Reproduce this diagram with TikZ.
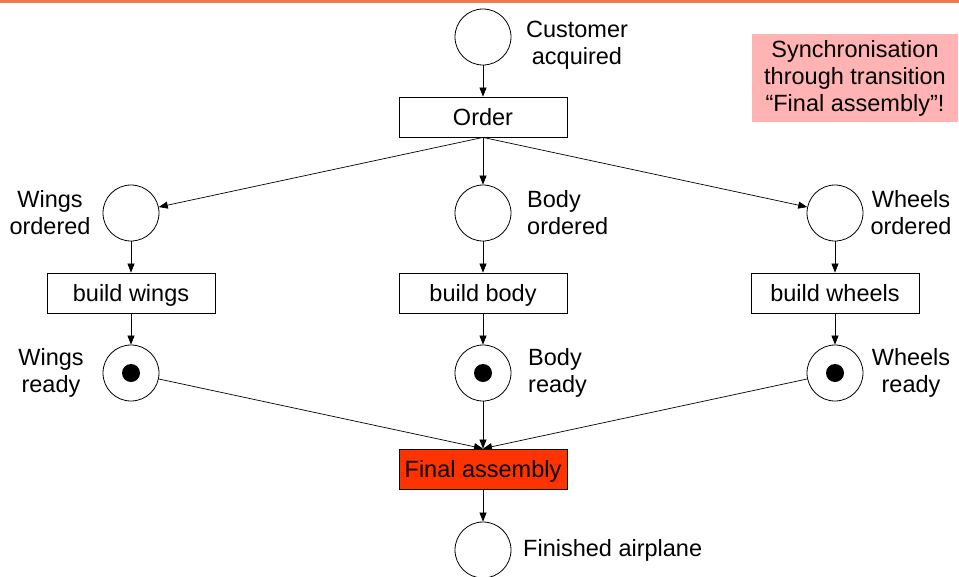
\documentclass[tikz,border=0pt]{standalone}
\usepackage{fontspec}
\setmainfont{Liberation Sans}
\usetikzlibrary{arrows.meta}
\definecolor{topline}{HTML}{F4764E}
\definecolor{firebox}{HTML}{FF3300}
\definecolor{notebox}{HTML}{FFB3B3}

\begin{document}
\begin{tikzpicture}[x=1pt,y=-1pt,
  every node/.style={font=\fontsize{23.5}{27}\selectfont},
  place/.style={draw,circle,minimum size=56pt,inner sep=0pt,line width=0.8pt},
  transition/.style={draw,rectangle,minimum width=168pt,minimum height=40pt,inner sep=0pt,
    text height=17pt,text depth=0pt,line width=0.8pt},
  token/.style={fill,circle,minimum size=18pt,inner sep=0pt},
  arc/.style={-{Triangle[length=9pt,width=7pt]},line width=0.7pt},
  lbl/.style={align=center,inner sep=0pt},
  lbll/.style={align=left,inner sep=0pt,anchor=west},
]
\useasboundingbox (0,0) rectangle (959,576);
\draw[topline,line width=2.5pt] (0,1.5) -- (959,1.5);

% places and transitions
\node[place] (ca) at (483,37) {};
\node[transition] (order) at (483,117) {Order};

\node[place] (wo) at (131,213) {};
\node[place] (bo) at (483,213) {};
\node[place] (who) at (835,213) {};

\node[transition] (bw) at (131,293) {build wings};
\node[transition] (bb) at (483,293) {build body};
\node[transition] (bwh) at (835,293) {build wheels};

\node[place] (wr) at (131,373) {};
\node[place] (br) at (483,373) {};
\node[place] (whr) at (835,373) {};
\node[token] (wrt) at (wr) {};
\node[token] (brt) at (br) {};
\node[token] (whrt) at (whr) {};

\node[transition,fill=firebox] (fa) at (483,469) {Final assembly};
\node[place] (fp) at (483,550) {};

% labels
\node[lbl] (caL) at (577,45) {Customer\\acquired};
\node[lbl] (woL) at (50,213) {Wings\\ordered};
\node[lbll] (boL) at (527,213) {Body\\ordered};
\node[lbl] (whoL) at (911,213) {Wheels\\ordered};
\node[lbl] (wrL) at (51,373) {Wings\\ready};
\node[lbll] (brL) at (528,373) {Body\\ready};
\node[lbl] (whrL) at (911,373) {Wheels\\ready};
\node[lbll] (fpL) at (523,550) {Finished airplane};

\node[fill=notebox,minimum width=206pt,minimum height=88pt,inner sep=0pt,align=center] (note) at (855,78)
  {Synchronisation\\through transition\\“Final assembly”!};

% arcs
\draw[arc] (ca) -- (order);
\draw[arc] (order.south) -- (wo);
\draw[arc] (order.south) -- (bo);
\draw[arc] (order.south) -- (who);
\draw[arc] (wo) -- (bw);
\draw[arc] (bo) -- (bb);
\draw[arc] (who) -- (bwh);
\draw[arc] (bw) -- (wr);
\draw[arc] (bb) -- (br);
\draw[arc] (bwh) -- (whr);
\draw[arc] (wr) -- (fa.north);
\draw[arc] (br) -- (fa.north);
\draw[arc] (whr) -- (fa.north);
\draw[arc] (fa) -- (fp);
\end{tikzpicture}
\end{document}
